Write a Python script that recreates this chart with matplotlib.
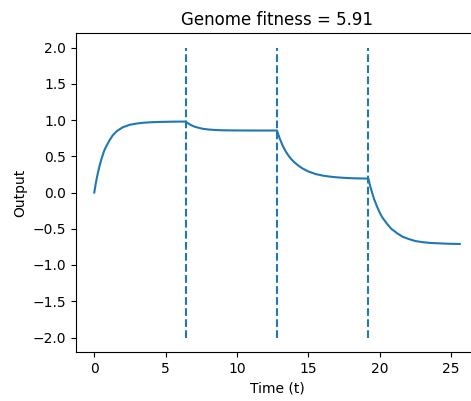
import matplotlib
matplotlib.use("Agg")
import matplotlib.pyplot as plt

# Output trace (time, output)
t_seg1 = [0.0, 0.1, 0.2, 0.3, 0.4, 0.5, 0.7, 0.9, 1.1, 1.3, 1.6, 2.0, 2.5, 3.0, 3.5, 4.0, 4.5, 5.0, 5.5, 6.0, 6.4]
y_seg1 = [0.0, 0.12, 0.22, 0.31, 0.39, 0.46, 0.58, 0.66, 0.73, 0.79, 0.85, 0.90, 0.935, 0.952, 0.963, 0.969, 0.973, 0.975, 0.977, 0.978, 0.978]

t_seg2 = [6.6, 6.8, 7.0, 7.3, 7.6, 8.0, 8.5, 9.0, 10.0, 11.0, 12.0, 12.8]
y_seg2 = [0.95, 0.928, 0.91, 0.893, 0.879, 0.869, 0.862, 0.858, 0.856, 0.855, 0.855, 0.855]

t_seg3 = [12.9, 13.0, 13.2, 13.4, 13.6, 13.8, 14.0, 14.3, 14.6, 15.0, 15.5, 16.0, 16.5, 17.0, 17.5, 18.0, 18.6, 19.2]
y_seg3 = [0.795, 0.74, 0.645, 0.57, 0.51, 0.46, 0.42, 0.37, 0.33, 0.29, 0.255, 0.233, 0.219, 0.209, 0.202, 0.197, 0.194, 0.192]

t_seg4 = [19.3, 19.4, 19.6, 19.8, 20.0, 20.2, 20.5, 20.8, 21.2, 21.6, 22.0, 22.5, 23.0, 23.5, 24.0, 24.8, 25.6]
y_seg4 = [0.11, 0.04, -0.09, -0.19, -0.28, -0.35, -0.43, -0.50, -0.56, -0.61, -0.64, -0.67, -0.685, -0.695, -0.70, -0.707, -0.71]

# Input switching times (dashed markers)
switch_times = [6.4, 12.8, 19.2]
marker_low, marker_high = -2.0, 2.0

title = "Genome fitness = 5.91"

t = t_seg1 + t_seg2 + t_seg3 + t_seg4
y = y_seg1 + y_seg2 + y_seg3 + y_seg4

fig = plt.figure(figsize=(4.71, 4.01), dpi=100)
ax = fig.add_axes([76 / 471, 49 / 401, (478 - 76) / 471, (352 - 33) / 401])
ax.plot(t, y, color="C0", linewidth=1.5)
ax.vlines(switch_times, marker_low, marker_high, colors="C0", linestyles="--", linewidth=1.5)
ax.set_title(title)
ax.set_xlabel("Time (t)")
ax.set_ylabel("Output")
fig.savefig("out.png", dpi=100)
